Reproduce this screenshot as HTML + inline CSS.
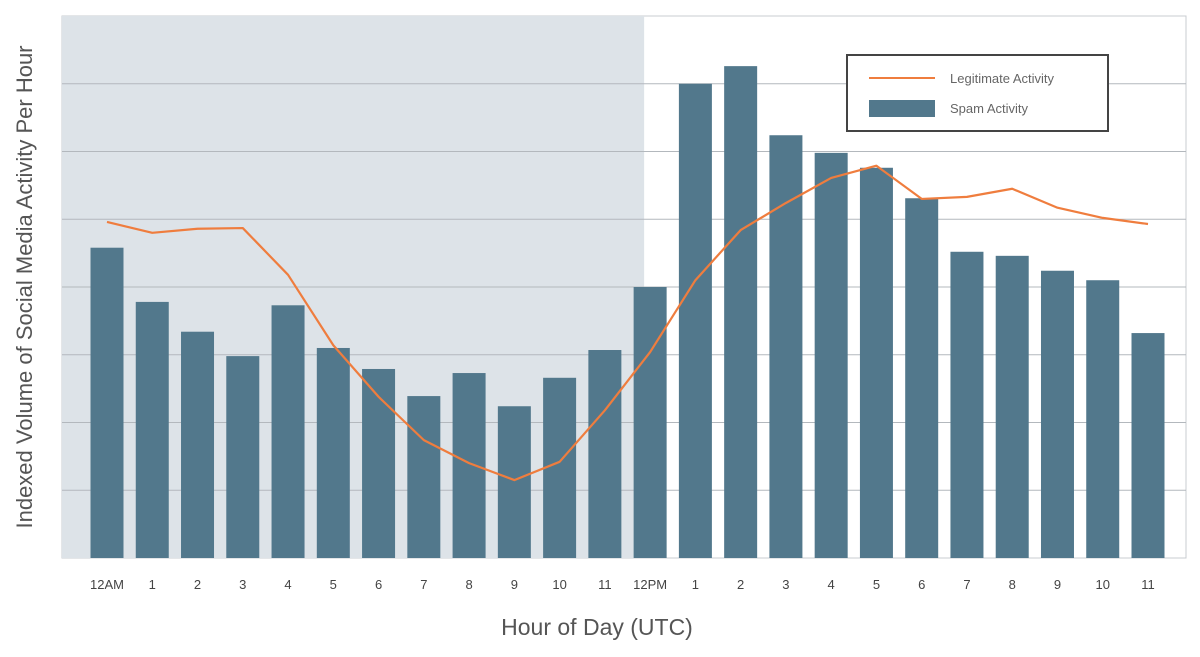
<!DOCTYPE html>
<html><head><meta charset="utf-8"><style>
body{margin:0;background:#fff;}
svg text{font-family:"Liberation Sans",sans-serif;}
</style></head><body>
<svg id="chart" width="1200" height="652" xmlns="http://www.w3.org/2000/svg"></svg>
<script>
const categories=["12AM","1","2","3","4","5","6","7","8","9","10","11","12PM","1","2","3","4","5","6","7","8","9","10","11"];
const spamValues=[4.58,3.78,3.34,2.98,3.73,3.10,2.79,2.39,2.73,2.24,2.66,3.07,4.0,7.0,7.26,6.24,5.98,5.76,5.31,4.52,4.46,4.24,4.10,3.32];
const legitValues=[4.96,4.80,4.86,4.87,4.18,3.14,2.38,1.74,1.40,1.15,1.42,2.18,3.04,4.10,4.84,5.24,5.61,5.79,5.30,5.33,5.45,5.17,5.02,4.93];
const yMax=8;
const L=62,R=1186,T=16,B=558;
const svg=document.getElementById('chart');
const NS='http://www.w3.org/2000/svg';
function mk(tag,attrs,parent){const e=document.createElementNS(NS,tag);for(const k in attrs)e.setAttribute(k,attrs[k]);(parent||svg).appendChild(e);return e;}
const step=(1148-107)/23;
function xs(i){return 107+i*step;}
function ys(v){return B-(v/yMax)*(B-T);}
let bg=mk('rect',{x:L,y:T,width:R-L,height:B-T,fill:'#fff',stroke:'#c9ccd0'});


let sh=mk('rect',{x:L,y:T,width:(xs(11)+xs(12))/2-L+(xs(12)-xs(11))*0.5-6,height:B-T,fill:'#dde3e8'});


for(let g=1;g<yMax;g++){
  const gl=mk('line',{x1:L,x2:R,y1:ys(g),y2:ys(g),stroke:'#b3b8bd','stroke-width':1});
  
  
}
const bw=33;
spamValues.forEach((v,i)=>{
  const r=mk('rect',{x:xs(i)-bw/2,y:ys(v),width:bw,height:B-ys(v),fill:'#52788c'});
  
  
});
const pts=legitValues.map((v,i)=>xs(i)+','+ys(v)).join(' ');
const pl=mk('polyline',{points:pts,fill:'none',stroke:'#ef7d3e','stroke-width':2.2,'stroke-linejoin':'round'});


categories.forEach((c,i)=>{
  const t=mk('text',{x:xs(i),y:589,'text-anchor':'middle','font-size':13,fill:'#444'});
  t.textContent=c;
  
  
});
const xt=mk('text',{x:597,y:635,'text-anchor':'middle','font-size':23,fill:'#555'});
xt.textContent='Hour of Day (UTC)';


const yt=mk('text',{x:0,y:0,'text-anchor':'middle','font-size':22,fill:'#555',transform:'translate(32,287) rotate(-90)'});
yt.textContent='Indexed Volume of Social Media Activity Per Hour';


const lg=mk('g',{});


mk('rect',{x:847,y:55,width:261,height:76,fill:'#fff',stroke:'#444','stroke-width':2},lg);
const l1=mk('line',{x1:869,x2:935,y1:78,y2:78,stroke:'#ef7d3e','stroke-width':2},lg);


const t1=mk('text',{x:950,y:83,'font-size':13,fill:'#666'},lg);
t1.textContent='Legitimate Activity';


const r2=mk('rect',{x:869,y:100,width:66,height:17,fill:'#52788c'},lg);


const t2=mk('text',{x:950,y:113,'font-size':13,fill:'#666'},lg);
t2.textContent='Spam Activity';


</script>
</body></html>
